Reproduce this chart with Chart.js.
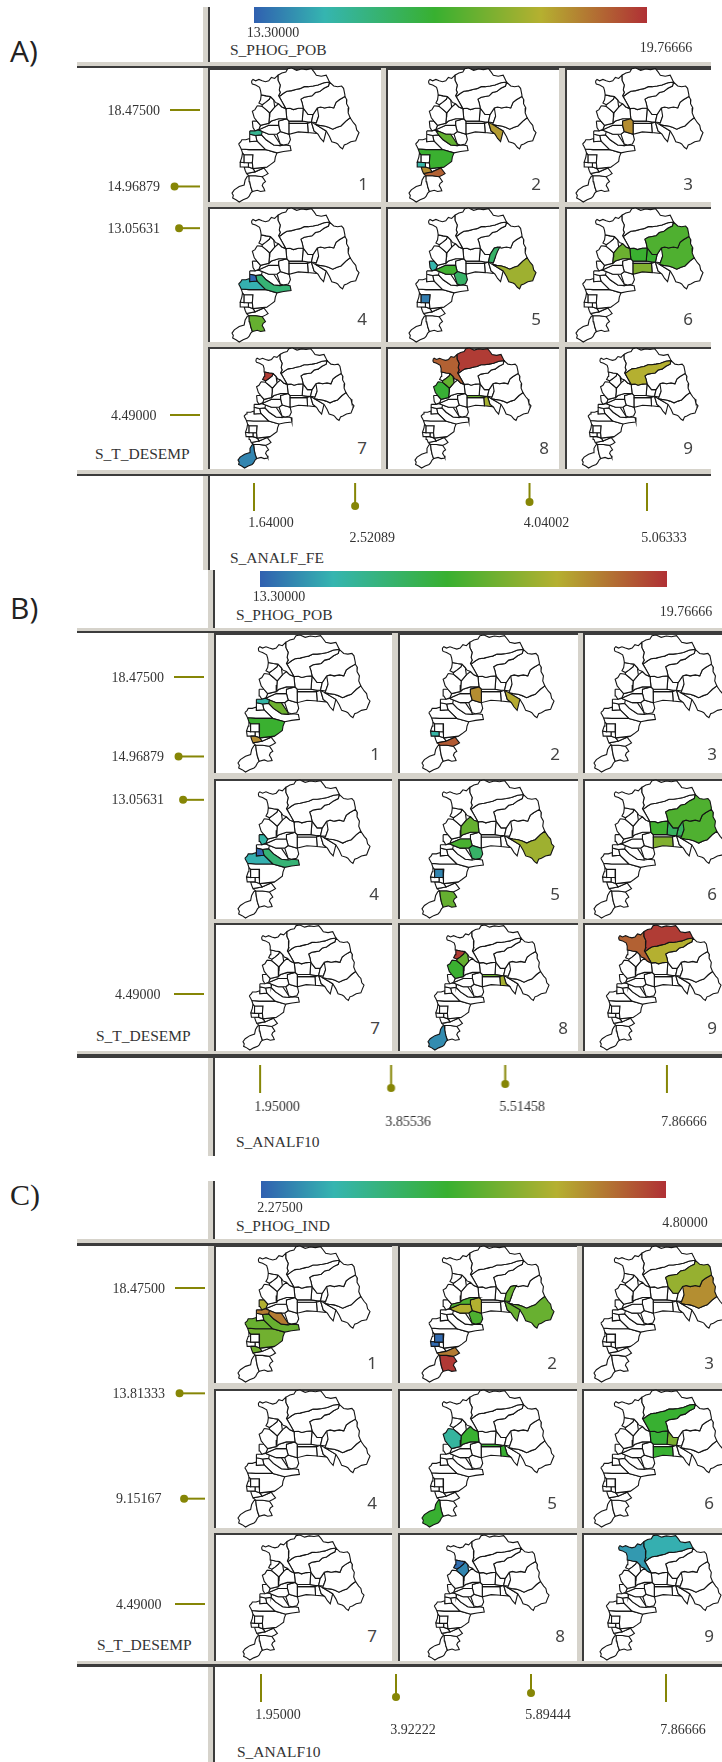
<!DOCTYPE html>
<html>
<head>
<meta charset="utf-8">
<title>Conditioned choropleth maps</title>
<script src="https://cdn.jsdelivr.net/npm/chart.js@4/dist/chart.umd.min.js"></script>
<style>
  html, body { margin: 0; padding: 0; background: #fff; }
  #page { position: relative; width: 722px; height: 1762px; overflow: hidden; background: #fff; }
  #page div, #page canvas { position: absolute; }
  .name { font: 15.5px "Liberation Serif", serif; color: #333; white-space: nowrap; transform: translateY(-50%); }
  .num { font: 17px "Noto Sans", sans-serif; color: #444; transform: translate(-50%, -50%); }
  .letter { font-size: 30px; color: #222; transform: translateY(-50%); }
</style>
</head>
<body>
<div id="page"></div>
<script>
// Colour ramp of the legend bar
const rampStops = [0, 0.18, 0.46, 0.73, 1];
const rampColors = [[48, 96, 176], [53, 181, 176], [56, 176, 48], [181, 176, 48], [176, 48, 53]];

// Slider values of the three sections
const phogPobRange = [13.3, 19.76666];
const phogIndRange = [2.275, 4.8];
const desempTicksAB = [18.475, 14.96879, 13.05631, 4.49];
const desempTicksC = [18.475, 13.81333, 9.15167, 4.49];
const analfFeTicks = [1.64, 2.52089, 4.04002, 5.06333];
const analf10TicksB = [1.95, 3.85536, 5.51458, 7.86666];
const analf10TicksC = [1.95, 3.92222, 5.89444, 7.86666];

// Commune outlines, in map units
const nw = [[68,42],[72,38],[80,42],[90,38],[100,42],[110,45],[120,42],[128,32],[138,35],[148,25],[148,40],[155,55],[152,70],[155,78],[150,88],[160,105],[172,127],[160,122],[150,112],[140,108],[135,100],[125,90],[112,88],[97,85],[95,72],[92,62],[80,55],[70,52],[68,48]];
const north = [[148,25],[160,18],[172,15],[178,5],[190,3],[205,10],[220,6],[235,8],[250,5],[258,15],[265,25],[280,28],[295,25],[300,35],[305,46],[288,48],[270,55],[255,58],[240,60],[228,60],[215,66],[205,68],[190,72],[175,74],[165,80],[152,90],[150,88],[155,78],[152,70],[155,55],[148,40]];
const band = [[152,90],[165,80],[175,74],[190,72],[205,68],[215,66],[228,60],[240,60],[255,58],[270,55],[288,48],[305,46],[302,58],[288,65],[275,75],[262,78],[252,88],[240,90],[228,92],[218,98],[222,110],[225,125],[210,126],[195,130],[185,126],[172,127],[160,105]];
const ne = [[218,98],[228,92],[240,90],[252,88],[262,78],[275,75],[288,65],[302,58],[305,46],[318,58],[330,60],[342,58],[348,65],[352,85],[352,90],[335,100],[325,108],[318,125],[305,122],[290,125],[278,122],[268,125],[255,145],[240,145],[225,125],[222,110]];
const east = [[268,125],[278,122],[290,125],[305,122],[318,125],[325,108],[335,100],[352,90],[358,100],[357,112],[364,125],[362,140],[368,155],[355,165],[340,180],[328,184],[315,190],[302,184],[290,180],[275,178],[262,175],[265,170],[272,150]];
const southEast = [[262,175],[275,178],[290,180],[302,184],[315,190],[328,184],[340,180],[355,165],[368,155],[378,170],[385,178],[388,192],[395,200],[390,212],[385,225],[370,228],[358,235],[350,238],[345,250],[338,245],[330,235],[325,232],[312,228],[305,212],[295,195]];
const valley = [[268,125],[285,122],[278,135],[272,150],[265,170],[250,168],[255,145]];
const stripRight = [[250,168],[262,175],[295,195],[287,228],[278,218],[270,205],[258,195]];
const nwSmall = [[97,85],[112,88],[125,90],[122,98],[110,108],[100,115],[90,110],[95,100]];
const nw2 = [[100,115],[110,108],[122,98],[125,90],[135,100],[138,122],[123,140],[112,130],[100,120]];
const nw3 = [[85,118],[100,120],[112,130],[123,140],[122,152],[120,172],[95,178],[84,165],[76,155],[70,135],[78,130]];
const midA = [[122,152],[123,140],[138,122],[150,112],[160,122],[172,127],[175,158],[150,158],[128,165],[120,172]];
const midB = [[172,127],[185,126],[195,130],[210,126],[225,125],[222,165],[182,165],[175,158]];
const midC = [[225,125],[240,145],[255,145],[250,168],[240,168],[222,165]];
const thinRow = [[182,165],[222,165],[240,168],[238,172],[182,172]];
const rowRect = [[182,172],[238,172],[240,200],[210,198],[182,205]];
const rowEnd = [[238,172],[250,168],[258,195],[268,203],[240,200]];
const tealTop = [[70,165],[84,165],[95,178],[90,190],[78,195],[72,185]];
const smallCentre = [[95,178],[120,172],[128,165],[150,158],[175,158],[150,165],[150,178],[120,178],[88,192]];
const leftOlive = [[88,192],[120,178],[150,178],[155,197],[145,205],[120,205],[100,197]];
const centreOlive = [[150,178],[150,165],[175,158],[182,165],[182,205],[155,197]];
const belowCentre = [[145,205],[155,197],[182,205],[186,222],[180,235],[165,238],[155,235]];
const smallWest = [[62,195],[78,195],[88,192],[100,197],[98,207],[80,209],[62,205]];
const mainBrown = [[88,192],[100,197],[120,205],[135,205],[155,235],[155,240],[135,238],[112,222],[98,207]];
const blueStrip = [[62,205],[80,209],[84,226],[62,228]];
const coastWest = [[28,235],[35,228],[38,222],[50,222],[62,218],[62,228],[84,226],[110,252],[60,252],[36,250],[32,242]];
const longBand = [[80,209],[98,207],[112,222],[135,238],[155,240],[170,238],[185,240],[188,255],[165,258],[145,262],[110,252],[84,226]];
const bigSouth = [[36,250],[60,252],[110,252],[145,262],[140,275],[138,288],[125,298],[115,305],[72,310],[70,292],[72,268],[45,268],[40,262]];
const hole = [[45,268],[72,268],[70,292],[45,292]];
const coastStrip = [[40,262],[45,268],[45,292],[33,290],[38,275]];
const coastBox = [[33,290],[58,292],[58,305],[35,305]];
const holeBelow = [[45,292],[70,292],[72,310],[58,305],[58,292]];
const lowSmall = [[45,305],[58,305],[72,310],[78,320],[52,325],[48,315]];
const lowRidge = [[72,310],[115,305],[105,308],[78,320]];
const redOrange = [[52,325],[78,320],[105,308],[118,325],[110,330],[100,335],[80,332],[60,332]];
const south = [[60,332],[80,332],[100,335],[105,342],[110,350],[103,355],[100,362],[105,370],[108,378],[95,380],[85,376],[70,380],[65,365],[62,350]];
const tip = [[55,333],[60,332],[62,350],[65,365],[70,380],[65,385],[60,395],[55,400],[42,405],[30,412],[20,405],[10,400],[12,392],[8,385],[15,375],[30,365],[45,360],[48,345]];

const communes = [nw, north, band, ne, east, southEast, valley, stripRight, nwSmall, nw2, nw3, midA, midB, midC, thinRow, rowRect, rowEnd, tealTop, smallCentre, leftOlive, centreOlive, belowCentre, smallWest, mainBrown, blueStrip, coastWest, longBand, bigSouth, hole, coastStrip, coastBox, holeBelow, lowSmall, lowRidge, redOrange, south, tip];

// Panel fills: [commune, value on the legend scale], one list for each of the nine panels
const fillsA = [
  [[smallWest, 14.9]],
  [[mainBrown, 16.85], [stripRight, 18.3], [bigSouth, 16.3], [coastBox, 14.6], [lowSmall, 18.5], [redOrange, 19.1]],
  [[centreOlive, 18.5]],
  [[blueStrip, 13.4], [coastWest, 14.4], [longBand, 15.3], [south, 16.9]],
  [[tealTop, 14.5], [leftOlive, 16.4], [belowCentre, 15.5], [valley, 15.5], [southEast, 17.7], [hole, 13.7]],
  [[midA, 17.0], [midB, 16.3], [midC, 16.3], [ne, 16.6], [east, 16.6], [rowRect, 17.3]],
  [[nwSmall, 19.6], [tip, 13.8]],
  [[nw, 19.1], [north, 19.6], [nw2, 16.9], [nw3, 16.2], [thinRow, 17.0], [rowEnd, 17.8]],
  [[band, 18.0]]
];
const fillsB = [
  [[smallWest, 14.6], [mainBrown, 17.0], [bigSouth, 16.3], [lowSmall, 18.5]],
  [[centreOlive, 18.5], [stripRight, 18.1], [coastBox, 14.6], [redOrange, 19.2]],
  [],
  [[tealTop, 14.6], [blueStrip, 13.4], [coastWest, 14.4], [longBand, 15.3]],
  [[midA, 16.9], [leftOlive, 16.5], [belowCentre, 15.5], [southEast, 17.7], [hole, 13.8], [south, 16.9]],
  [[midB, 16.4], [rowRect, 17.3], [ne, 16.6], [east, 16.6], [midC, 15.6], [valley, 15.6]],
  [],
  [[nwSmall, 19.6], [nw2, 16.9], [nw3, 16.3], [thinRow, 17.0], [rowEnd, 17.8], [tip, 13.9]],
  [[nw, 19.1], [north, 19.6], [band, 18.0]]
];
const fillsC = [
  [[tealTop, 4.1], [smallWest, 4.4], [mainBrown, 4.4], [longBand, 3.7], [coastWest, 3.7], [bigSouth, 3.75], [lowSmall, 3.75]],
  [[smallCentre, 3.55], [leftOlive, 4.1], [centreOlive, 4.1], [belowCentre, 3.55], [valley, 3.7], [stripRight, 3.7], [southEast, 3.7], [hole, 2.33], [coastBox, 2.33], [redOrange, 4.4], [south, 4.75]],
  [[ne, 3.95], [east, 4.3]],
  [],
  [[nw3, 2.83], [midA, 3.43], [thinRow, 3.43], [rowEnd, 3.43], [tip, 3.43]],
  [[band, 3.43], [midB, 3.4], [midC, 3.8], [rowRect, 3.43]],
  [],
  [[nwSmall, 2.35], [nw2, 2.48]],
  [[nw, 2.58], [north, 2.7]]
];

const sections = [
  {
    letter: "A)", letterFont: '"Open Sans", sans-serif', letterY: 50,
    right: 711, light: 203, dark: 208, divider: [7, 570],
    topBand: [62, 65.5, 68], bottomBand: [469.5, 473.5, 476],
    colX: [208, 386, 564.5], colW: [173, 173, 146.5],
    rowY: [67.7, 206.7, 346.7], rowH: [134, 135, 122.6],
    mapX: [[232, 409, 576], [232, 409, 576], [238, 415, 581.5]], mapW: [127, 127, 116],
    mapY: [68, 208, 348], mapH: [134, 134, 120],
    numX: [[363, 536, 688], [362, 536, 688], [362, 544, 688]], numY: [183, 318, 447],
    fills: fillsA,
    barRange: phogPobRange, barX: [253.5, 646.5], barY: [7, 23], barName: "S_PHOG_POB", barNameX: 230, barNameY: 50,
    yTicks: desempTicksAB, yName: "S_T_DESEMP", yNameX: 95, yNameY: 454, yTop: 110, yBottom: 415, yRight: 203,
    xTicks: analfFeTicks, xName: "S_ANALF_FE", xNameX: 230, xNameY: 558, xLeft: 253.5, xRight: 646.5, xTop: 477, xPad: 5
  },
  {
    letter: "B)", letterFont: '"Open Sans", sans-serif', letterY: 607,
    right: 722, light: 208, dark: 213, divider: [570, 1156],
    topBand: [628, 631, 633.3], bottomBand: [1050.7, 1054, 1057.7],
    colX: [214, 398, 582.5], colW: [178, 179.5, 139.5],
    rowY: [633.3, 778.7, 923.3], rowH: [140, 140, 127.4],
    mapX: [[238, 422, 594], [238, 422, 594], [243, 428, 600]], mapW: [132, 132, 121],
    mapY: [635, 780, 925], mapH: [137, 138, 125],
    numX: [[375, 555, 712], [374, 555, 712], [375, 563, 712]], numY: [753, 893, 1027],
    fills: fillsB,
    barRange: phogPobRange, barX: [260.4, 667.5], barY: [571, 587], barName: "S_PHOG_POB", barNameX: 236, barNameY: 615,
    yTicks: desempTicksAB, yName: "S_T_DESEMP", yNameX: 96, yNameY: 1036, yTop: 677, yBottom: 994, yRight: 207,
    xTicks: analf10TicksB, xName: "S_ANALF10", xNameX: 236, xNameY: 1142, xLeft: 260.4, xRight: 667.3, xTop: 1059, xPad: 7
  },
  {
    letter: "C)", letterFont: '"Liberation Serif", serif', letterY: 1195,
    right: 722, light: 208, dark: 213, divider: [1181, 1762],
    topBand: [1239, 1243, 1245.5], bottomBand: [1660.7, 1664.3, 1666.7],
    colX: [214, 398, 581.6], colW: [178, 178.5, 140.4],
    rowY: [1245, 1388.7, 1533.3], rowH: [138.3, 139.6, 127.4],
    mapX: [[238, 422, 594], [238, 422, 594], [243, 428, 600]], mapW: [132, 132, 121],
    mapY: [1246, 1390, 1535], mapH: [136, 137, 125],
    numX: [[372, 552, 709], [372, 552, 709], [372, 560, 709]], numY: [1362, 1502, 1635],
    fills: fillsC,
    barRange: phogIndRange, barX: [261, 666.4], barY: [1181, 1198], barName: "S_PHOG_IND", barNameX: 236, barNameY: 1226,
    yTicks: desempTicksC, yName: "S_T_DESEMP", yNameX: 97, yNameY: 1645, yTop: 1288, yBottom: 1604, yRight: 208,
    xTicks: analf10TicksC, xName: "S_ANALF10", xNameX: 237, xNameY: 1752, xLeft: 260.8, xRight: 666.4, xTop: 1668, xPad: 6
  }
];

const page = document.getElementById("page");
const lightGray = "#d6d3cb";
const darkGray = "#3c3c3c";
const sliderColor = "#868606";
const tickFont = { family: '"Liberation Serif", serif', size: 14, lineHeight: "15px" };

function addBox(x, y, w, h, color) {
  const el = document.createElement("div");
  el.style.cssText = `left:${x}px;top:${y}px;width:${w}px;height:${h}px;background:${color}`;
  page.appendChild(el);
  return el;
}

function addText(cls, text, x, y, font) {
  const el = document.createElement("div");
  el.className = cls;
  el.textContent = text;
  el.style.left = x + "px";
  el.style.top = y + "px";
  if (font) el.style.fontFamily = font;
  page.appendChild(el);
}

function addCanvas(x, y, w, h) {
  const canvas = document.createElement("canvas");
  canvas.width = w;
  canvas.height = h;
  canvas.style.cssText = `left:${x}px;top:${y}px;width:${w}px;height:${h}px`;
  page.appendChild(canvas);
  return canvas;
}

// Maps a value on the legend scale to its colour
function rampColor(value, range) {
  const t = Math.min(1, Math.max(0, (value - range[0]) / (range[1] - range[0])));
  let i = 0;
  while (i < rampStops.length - 2 && t > rampStops[i + 1]) i++;
  const f = (t - rampStops[i]) / (rampStops[i + 1] - rampStops[i]);
  const rgb = rampColors[i].map((c, k) => Math.round(c + (rampColors[i + 1][k] - c) * f));
  return `rgb(${rgb.join(",")})`;
}

function staggered(value, index) {
  const text = value.toFixed(5);
  return index % 2 === 0 ? [text] : ["", text];
}

function drawFrame(s) {
  const left = 77;
  // Light grid behind the panels and the dark rules
  addBox(s.light, s.topBand[0], s.right - s.light, s.bottomBand[2] - s.topBand[0], lightGray);
  addBox(left, s.topBand[0], s.right - left, s.topBand[1] - s.topBand[0], lightGray);
  addBox(left, s.topBand[1], s.right - left, s.topBand[2] - s.topBand[1], darkGray);
  addBox(left, s.bottomBand[0], s.right - left, s.bottomBand[1] - s.bottomBand[0], lightGray);
  addBox(left, s.bottomBand[1], s.right - left, s.bottomBand[2] - s.bottomBand[1], darkGray);
  addBox(s.light, s.divider[0], s.dark - s.light, s.topBand[0] - s.divider[0], lightGray);
  addBox(s.dark, s.divider[0], 2, s.topBand[0] - s.divider[0], darkGray);
  addBox(s.light, s.bottomBand[2], s.dark - s.light, s.divider[1] - s.bottomBand[2], lightGray);
  addBox(s.dark, s.bottomBand[2], 2, s.divider[1] - s.bottomBand[2], darkGray);
  addText("letter", s.letter, 10, s.letterY, s.letterFont);
  addText("name", s.barName, s.barNameX, s.barNameY);
  addText("name", s.yName, s.yNameX, s.yNameY);
  addText("name", s.xName, s.xNameX, s.xNameY);
}

function drawPanel(s, row, col) {
  const panel = addBox(s.colX[col], s.rowY[row], s.colW[col], s.rowH[row], "#fff");
  panel.style.boxSizing = "border-box";
  panel.style.borderLeft = "2px solid " + darkGray;
  panel.style.borderTop = "2px solid " + darkGray;

  const fills = s.fills[row * 3 + col];
  const margin = 3;
  const canvas = addCanvas(s.mapX[row][col] - margin, s.mapY[row] - margin, s.mapW[row] + margin * 2, s.mapH[row] + margin * 2);
  const coloured = fills.map(f => ({ shape: f[0], color: rampColor(f[1], s.barRange) }));
  const plain = communes.filter(c => !fills.some(f => f[0] === c)).map(c => ({ shape: c, color: "#fff" }));

  // First dataset is drawn on top
  new Chart(canvas, {
    type: "scatter",
    data: {
      datasets: coloured.concat(plain).map(item => ({
        data: item.shape.concat([item.shape[0]]).map(p => ({ x: p[0], y: p[1] })),
        showLine: true,
        fill: "shape",
        backgroundColor: item.color,
        borderColor: "#141414",
        borderWidth: 1.1,
        pointRadius: 0,
        clip: false
      }))
    },
    options: {
      responsive: false,
      animation: false,
      layout: { padding: margin },
      plugins: { legend: { display: false }, tooltip: { enabled: false } },
      scales: {
        x: { type: "linear", display: false, min: 8, max: 395 },
        y: { type: "linear", display: false, min: 3, max: 412, reverse: true }
      }
    }
  });

  addText("num", String(row * 3 + col + 1), s.numX[row][col], s.numY[row]);
}

// Legend colour bar, a floating bar on the value axis
function drawColorBar(s) {
  const pad = 50;
  const [x0, x1] = s.barX;
  const [y0, y1] = s.barY;
  const axisH = 40;
  const canvas = addCanvas(x0 - pad, y0, x1 - x0 + pad * 2, y1 - y0 + axisH);
  new Chart(canvas, {
    type: "bar",
    data: {
      labels: [""],
      datasets: [{
        data: [s.barRange],
        barPercentage: 1,
        categoryPercentage: 1,
        backgroundColor: ctx => {
          const area = ctx.chart.chartArea;
          if (!area) return rampColor(s.barRange[0], s.barRange);
          const grad = ctx.chart.ctx.createLinearGradient(area.left, 0, area.right, 0);
          rampStops.forEach((t, i) => grad.addColorStop(t, `rgb(${rampColors[i].join(",")})`));
          return grad;
        }
      }]
    },
    options: {
      indexAxis: "y",
      responsive: false,
      animation: false,
      layout: { padding: { left: pad, right: pad } },
      plugins: { legend: { display: false }, tooltip: { enabled: false } },
      scales: {
        y: { display: false },
        x: {
          type: "linear",
          min: s.barRange[0],
          max: s.barRange[1],
          grid: { display: false, drawTicks: false },
          border: { display: false },
          afterBuildTicks: scale => { scale.ticks = s.barRange.map(value => ({ value })); },
          afterFit: scale => { scale.height = axisH; },
          ticks: {
            autoSkip: false, maxRotation: 0, padding: 3, labelOffset: 19, color: "#333", font: tickFont,
            callback: (value, index) => staggered(value, index)
          }
        }
      }
    }
  });
}

// Vertical slider on the left of the panels
function drawYSlider(s) {
  const reaches = [33, 28, 23, 33];
  const axisW = 90;
  const pad = 10;
  const x = s.yRight - 33 - axisW;
  const canvas = addCanvas(x, s.yTop - pad, axisW + 33 + 3, s.yBottom - s.yTop + pad * 2);
  const lo = s.yTicks[s.yTicks.length - 1];
  const hi = s.yTicks[0];
  new Chart(canvas, {
    type: "scatter",
    data: {
      datasets: s.yTicks.map((v, i) => ({
        data: [{ x: 33 - reaches[i], y: v }, { x: 33, y: v }],
        showLine: true,
        borderColor: sliderColor,
        borderWidth: 2,
        backgroundColor: sliderColor,
        pointRadius: (i === 1 || i === 2) ? [3, 0] : 0,
        clip: false
      }))
    },
    options: {
      responsive: false,
      animation: false,
      layout: { padding: { top: pad, bottom: pad, right: 3 } },
      plugins: { legend: { display: false }, tooltip: { enabled: false } },
      scales: {
        x: { type: "linear", display: false, min: 0, max: 33 },
        y: {
          type: "linear",
          min: lo,
          max: hi,
          grid: { display: false, drawTicks: false },
          border: { display: false },
          afterBuildTicks: scale => { scale.ticks = s.yTicks.map(value => ({ value })); },
          afterFit: scale => {
            scale.width = axisW;
            scale.paddingTop = 0;
            scale.paddingBottom = 0;
          },
          ticks: {
            autoSkip: false, crossAlign: "center", padding: 10, labelOffset: 1, color: "#333", font: tickFont,
            callback: value => value.toFixed(5)
          }
        }
      }
    }
  });
}

// Horizontal slider under the panels
function drawXSlider(s) {
  const reaches = [34, 28, 23, 34];
  const pad = 50;
  const axisH = 50;
  const canvas = addCanvas(s.xLeft - pad, s.xTop, s.xRight - s.xLeft + pad * 2, 34 + axisH);
  new Chart(canvas, {
    type: "scatter",
    data: {
      datasets: s.xTicks.map((v, i) => ({
        data: [{ x: v, y: 0 }, { x: v, y: reaches[i] }],
        showLine: true,
        borderColor: sliderColor,
        borderWidth: 2,
        backgroundColor: sliderColor,
        pointRadius: (i === 1 || i === 2) ? [0, 3] : 0,
        clip: false
      }))
    },
    options: {
      responsive: false,
      animation: false,
      layout: { padding: { left: pad, right: pad } },
      plugins: { legend: { display: false }, tooltip: { enabled: false } },
      scales: {
        y: { type: "linear", display: false, min: 0, max: 34, reverse: true },
        x: {
          type: "linear",
          min: s.xTicks[0],
          max: s.xTicks[s.xTicks.length - 1],
          grid: { display: false, drawTicks: false },
          border: { display: false },
          afterBuildTicks: scale => { scale.ticks = s.xTicks.map(value => ({ value })); },
          afterFit: scale => { scale.height = axisH; },
          ticks: {
            autoSkip: false, maxRotation: 0, padding: s.xPad, labelOffset: 17, color: "#333", font: tickFont,
            callback: (value, index) => staggered(value, index)
          }
        }
      }
    }
  });
}

sections.forEach(s => {
  drawFrame(s);
  for (let row = 0; row < 3; row++) {
    for (let col = 0; col < 3; col++) {
      drawPanel(s, row, col);
    }
  }
  drawColorBar(s);
  drawYSlider(s);
  drawXSlider(s);
});
</script>
</body>
</html>
